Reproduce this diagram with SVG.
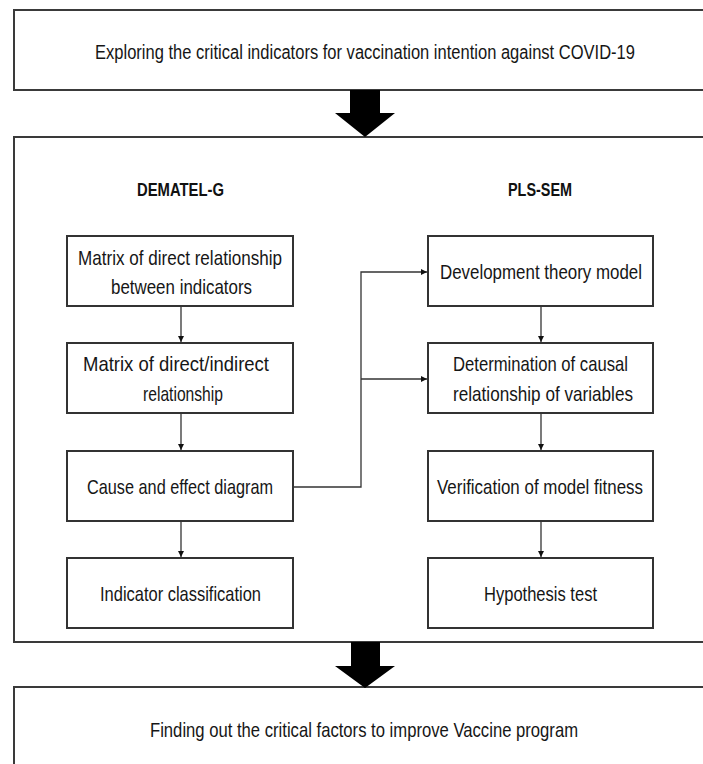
<svg xmlns="http://www.w3.org/2000/svg" width="703" height="764" viewBox="0 0 703 764">
<style>
.frame{fill:#fff;stroke:#3a3a3a;stroke-width:2}
.box{fill:#fff;stroke:#333;stroke-width:2}
.t{font-family:"Liberation Sans",Arial,sans-serif;font-size:21px;fill:#161616;text-anchor:middle}
.h{font-family:"Liberation Sans",Arial,sans-serif;font-size:19px;font-weight:bold;fill:#111;text-anchor:middle}
.c{fill:none;stroke:#333;stroke-width:1.3}
.big{fill:#000}
</style>
<defs>
<marker id="ah" viewBox="0 0 10 10" refX="10" refY="5" markerWidth="6" markerHeight="6" markerUnits="userSpaceOnUse" orient="auto">
<path d="M0,0 L10,5 L0,10 z" fill="#111"/>
</marker>
</defs>
<rect width="703" height="764" fill="#fff"/>
<g id="top">
<path class="frame" d="M703,10 H14 V90 H703"/>
<text class="t" transform="translate(365,59) scale(0.8,1)" x="0" y="0" font-size="22" textLength="675" lengthAdjust="spacingAndGlyphs">Exploring the critical indicators for vaccination intention against COVID-19</text>
</g>
<g id="middle">
<path class="frame" d="M703,137 H14 V642 H703"/>
<text class="h" x="180.5" y="196" textLength="87" lengthAdjust="spacingAndGlyphs">DEMATEL-G</text>
<text class="h" x="540" y="196" textLength="64" lengthAdjust="spacingAndGlyphs">PLS-SEM</text>
</g>
<g id="bottom">
<path class="frame" d="M703,687 H14 V764"/>
<text class="t" x="364" y="737" textLength="428" lengthAdjust="spacingAndGlyphs">Finding out the critical factors to improve Vaccine program</text>
</g>
<g id="n1">
<rect class="box" x="67" y="236" width="226" height="70"/>
<text class="t" x="180" y="265" textLength="204" lengthAdjust="spacingAndGlyphs">Matrix of direct relationship</text>
<text class="t" x="181.5" y="294" textLength="141" lengthAdjust="spacingAndGlyphs">between indicators</text>
</g>
<g id="n2">
<rect class="box" x="67" y="343" width="226" height="70"/>
<text class="t" x="176" y="371" textLength="186" lengthAdjust="spacingAndGlyphs">Matrix of direct/indirect</text>
<text class="t" x="183" y="401" textLength="80" lengthAdjust="spacingAndGlyphs">relationship</text>
</g>
<g id="n3">
<rect class="box" x="67" y="451" width="226" height="70"/>
<text class="t" x="180" y="494" textLength="186" lengthAdjust="spacingAndGlyphs">Cause and effect diagram</text>
</g>
<g id="n4">
<rect class="box" x="67" y="558" width="226" height="70"/>
<text class="t" x="180.5" y="601" textLength="161" lengthAdjust="spacingAndGlyphs">Indicator classification</text>
</g>
<g id="n5">
<rect class="box" x="428" y="236" width="225" height="70"/>
<text class="t" x="541" y="279" textLength="202" lengthAdjust="spacingAndGlyphs">Development theory model</text>
</g>
<g id="n6">
<rect class="box" x="428" y="343" width="225" height="70"/>
<text class="t" x="540.5" y="371" textLength="175" lengthAdjust="spacingAndGlyphs">Determination of causal</text>
<text class="t" x="543" y="401" textLength="180" lengthAdjust="spacingAndGlyphs">relationship of variables</text>
</g>
<g id="n7">
<rect class="box" x="428" y="451" width="225" height="70"/>
<text class="t" x="540" y="494" textLength="206" lengthAdjust="spacingAndGlyphs">Verification of model fitness</text>
</g>
<g id="n8">
<rect class="box" x="428" y="558" width="225" height="70"/>
<text class="t" x="540.5" y="601" textLength="113" lengthAdjust="spacingAndGlyphs">Hypothesis test</text>
</g>
<g id="connectors">
<path class="big" d="M350,90 H380 V113 H395 L365,137 L335,113 H350 Z"/>
<path class="big" d="M351,642 H380 V666 H395 L365,688 L335,666 H351 Z"/>
<line class="c" x1="181" y1="306" x2="181" y2="342" marker-end="url(#ah)"/>
<line class="c" x1="181" y1="413" x2="181" y2="450" marker-end="url(#ah)"/>
<line class="c" x1="181" y1="521" x2="181" y2="557" marker-end="url(#ah)"/>
<line class="c" x1="541" y1="306" x2="541" y2="342" marker-end="url(#ah)"/>
<line class="c" x1="541" y1="413" x2="541" y2="450" marker-end="url(#ah)"/>
<line class="c" x1="541" y1="521" x2="541" y2="557" marker-end="url(#ah)"/>
<path class="c" d="M293,487 H361 V272 H427" marker-end="url(#ah)"/>
<path class="c" d="M361,379 H427" marker-end="url(#ah)"/>
</g>
</svg>
